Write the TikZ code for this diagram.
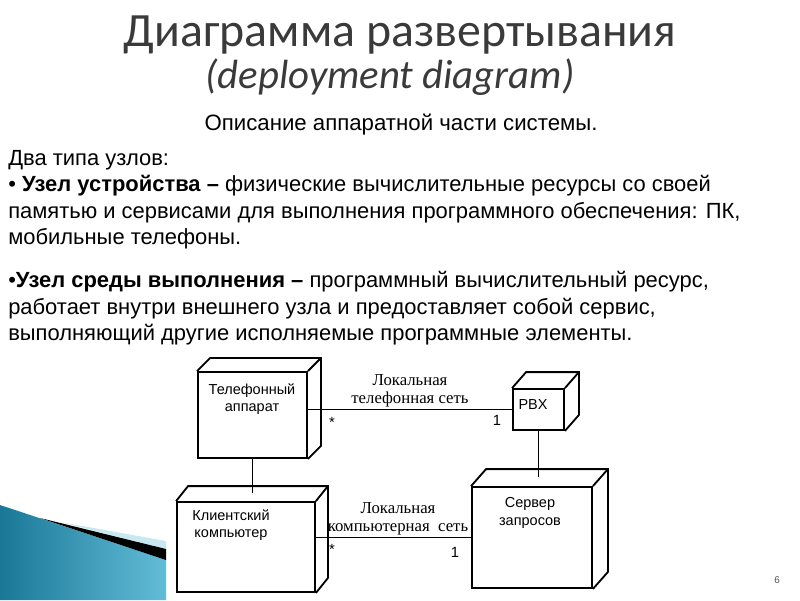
\documentclass[tikz,border=0pt]{standalone}
\usepackage{fontspec}
\setmainfont{Liberation Sans}
\newfontfamily\titlefont{Carlito}
\newfontfamily\linkfont{Liberation Serif}
\usetikzlibrary{calc,positioning}
\definecolor{tt}{HTML}{3A3A3A}
\definecolor{bl}{HTML}{1A7896}
\definecolor{bll}{HTML}{62BCD8}
\definecolor{pg}{HTML}{555555}
\newcommand{\cubeside}[3]{%
  \draw[boxline] (#1.north west) -- ++(#2,-#3) -- ($(#1.north east)+(#2,-#3)$)
    -- ($(#1.south east)+(#2,-#3)$) -- (#1.south east);
  \draw[boxline] (#1.north east) -- ++(#2,-#3);}

\tikzset{
  devbox/.style={draw, line width=1.3pt, inner sep=0pt},
  boxline/.style={line width=1.3pt, line join=miter},
  boxtext/.style={font=\fontsize{10.3}{12.5}\selectfont, align=center, inner sep=0pt},
  linktext/.style={font=\linkfont\fontsize{11.9}{12.5}\selectfont, align=center, inner sep=0pt},
  multtext/.style={font=\fontsize{10.5}{12}\selectfont, inner sep=0pt},
  conn/.style={line width=1pt},
  bodytext/.style={font=\fontsize{15.6}{18.85}\selectfont, align=left, inner sep=0pt, anchor=north west}
}

\begin{document}
\begin{tikzpicture}[x=0.025cm, y=-0.025cm]
  \useasboundingbox (0,0) rectangle (800,600);
  % corner decoration
  \shade[left color=bl, right color=bll] (0,505) -- (166,560) -- (166,600) -- (0,600) -- cycle;
  \fill[bll!35] (60,522) -- (166,541) -- (166,549) -- cycle;
  \fill[black] (40,518) -- (166,549) -- (166,560) -- cycle;

  \node[font=\titlefont\fontsize{34}{38}\selectfont, text=tt] (title) at (400,35) {Диаграмма развертывания};
  \node[font=\titlefont\itshape\fontsize{29}{32}\selectfont, text=tt] (subtitle) at (390,77) {(deployment diagram)};
  \node[font=\fontsize{15.8}{18}\selectfont] (descr) at (401,125) {Описание аппаратной части системы.};

  \node[bodytext] (devtxt) at (8,150) {%
    Два типа узлов:\\
    \textbullet{} \textbf{Узел устройства –} физические вычислительные ресурсы со своей\\
    памятью и сервисами для выполнения программного обеспечения: ПК,\\
    мобильные телефоны.};
  \node[bodytext] (exectxt) at (8,271) {%
    \textbullet\textbf{Узел среды выполнения –} программный вычислительный ресурс,\\
    работает внутри внешнего узла и предоставляет собой сервис,\\
    выполняющий другие исполняемые программные элементы.};

  % nodes
  \node[devbox, minimum width=2.725cm, minimum height=2.15cm] (phone) at (252.5,415) {};
  \cubeside{phone}{13}{13}
  \node[devbox, minimum width=1.275cm, minimum height=1.025cm] (pbx) at (538.5,409.5) {};
  \cubeside{pbx}{14}{16}
  \node[devbox, minimum width=3.45cm, minimum height=2.25cm] (client) at (246,547) {};
  \cubeside{client}{12}{15}
  \node[devbox, minimum width=3cm, minimum height=2.525cm] (server) at (532,537.5) {};
  \cubeside{server}{15}{17}

  \node[boxtext] (phonetxt) at (252,399) {Телефонный\\аппарат};
  \node[boxtext] (pbxtxt) at (533,405) {PBX};
  \node[boxtext] (clienttxt) at (231,525) {Клиентский\\компьютер};
  \node[boxtext] (servertxt) at (530,513) {Сервер\\запросов};

  % links
  \draw[conn] (pbx.west) -- (pbx.west -| phone.east);
  \draw[conn] (server.west) -- (server.west -| client.east);
  \coordinate (ctop) at ($(client.north)+(6,-8)$);
  \coordinate (stop) at ($(server.north)+(8,-9)$);
  \draw[conn] (phone.south) -- (phone.south |- ctop);
  \draw[conn] (pbx.south) -- (pbx.south |- stop);

  \node[linktext] (tellink) at (410,391) {Локальная\\телефонная сеть};
  \node[linktext] (lanlink) at (398,519) {Локальная\\компьютерная~~сеть};
  \node[multtext] (m1) at (332,422) {*};
  \node[multtext] (m2) at (497,420) {1};
  \node[multtext] (m3) at (332,549) {*};
  \node[multtext] (m4) at (455,552) {1};

  \node[font=\fontsize{7}{8}\selectfont, text=pg] (pagenum) at (777,580) {6};
\end{tikzpicture}
\end{document}
